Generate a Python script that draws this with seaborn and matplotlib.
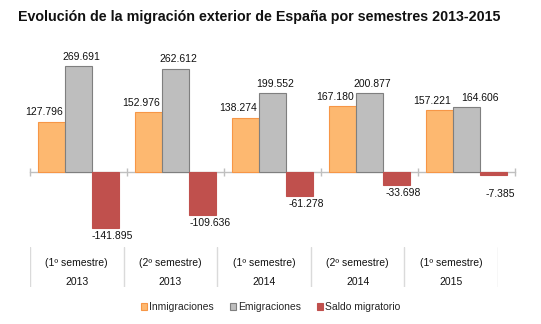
import matplotlib
matplotlib.use("Agg")
import matplotlib.pyplot as plt
import seaborn as sns
import pandas as pd
from matplotlib.patches import Patch

sns.set_theme(style="white")
plt.rcParams['font.family'] = ['Liberation Sans', 'DejaVu Sans']

title = "Evolución de la migración exterior de España por semestres 2013-2015"
periods = ["(1º semestre)", "(2º semestre)", "(1º semestre)", "(2º semestre)", "(1º semestre)"]
years = ["2013", "2013", "2014", "2014", "2015"]
series = ["Inmigraciones", "Emigraciones", "Saldo migratorio"]
inmigraciones = [127.796, 152.976, 138.274, 167.180, 157.221]
emigraciones = [269.691, 262.612, 199.552, 200.877, 164.606]
saldo = [-141.895, -109.636, -61.278, -33.698, -7.385]

fills = ["#FDB870", "#BEBEBE", "#C0504D"]
edges = ["#F79646", "#7F7F7F", "#C0504D"]
label_dx = [-5, 2, 5]  # label horizontal offsets (points)

cats = [f"{p}\n{y}#{i}" for i, (p, y) in enumerate(zip(periods, years))]
rows = []
for s, vals in zip(series, [inmigraciones, emigraciones, saldo]):
    for c, v in zip(cats, vals):
        rows.append({"cat": c, "serie": s, "valor": v})
df = pd.DataFrame(rows)

W, H = 541, 324
fig = plt.figure(figsize=(W / 100, H / 100), dpi=100)

ax = fig.add_axes([30 / W, (H - 240) / H, 485 / W, 200 / H])
sns.barplot(data=df, x="cat", y="valor", hue="serie", order=cats, hue_order=series,
            palette=fills, width=0.84, ax=ax, legend=False, saturation=1)
all_vals = [inmigraciones, emigraciones, saldo]
for i, cont in enumerate(ax.containers):
    for bar in cont:
        bar.set_edgecolor(edges[i])
        bar.set_linewidth(0.8)
    for j, (bar, v) in enumerate(zip(cont, all_vals[i])):
        x = bar.get_x() + bar.get_width() / 2
        txt = f"{v:.3f}"
        dx = label_dx[i]
        if i == 1 and abs(emigraciones[j] - inmigraciones[j]) < 15:
            dx += 8
        if v >= 0:
            ax.annotate(txt, (x, v), xytext=(dx, 3), textcoords="offset points",
                        ha="center", va="bottom", fontsize=7.5, color="#111111")
        else:
            extra = 8 if abs(v) < 15 else 0
            ax.annotate(txt, (x, v), xytext=(dx, -2 - extra), textcoords="offset points",
                        ha="center", va="top", fontsize=7.5, color="#111111")

ax.set_xlim(-0.5, 4.5)
ax.set_ylim(-172.6, 335)
ax.set_xlabel("")
ax.set_ylabel("")
ax.set_yticks([])
ax.set_xticks([i - 0.5 for i in range(6)])
ax.set_xticklabels([])
for sp in ["top", "right", "left"]:
    ax.spines[sp].set_visible(False)
ax.spines["bottom"].set_position(("data", 0))
ax.spines["bottom"].set_color("#BFBFBF")
ax.spines["bottom"].set_linewidth(1.0)
ax.spines["bottom"].set_zorder(0)
ax.tick_params(axis="x", direction="inout", length=6, color="#BFBFBF", width=1.0, bottom=True)
ax.patch.set_alpha(0)

# category table below
tax = fig.add_axes([30 / W, (H - 287) / H, 468 / W, 40 / H])
tax.set_xlim(0, 5)
tax.set_ylim(0, 1)
tax.axis("off")
for i in range(6):
    tax.axvline(i, color="#DADADA", lw=1.0)
for i, (p, y) in enumerate(zip(periods, years)):
    tax.text(i + 0.5, 0.6, p, ha="center", va="center", fontsize=7.5, color="#111111")
    tax.text(i + 0.5, 0.13, y, ha="center", va="center", fontsize=7.5, color="#111111")

handles = [Patch(facecolor=f, edgecolor=e, linewidth=0.8) for f, e in zip(fills, edges)]
fig.legend(handles, series, loc="center", bbox_to_anchor=(0.5, (H - 307) / H), ncol=3,
           frameon=False, fontsize=7.5, handlelength=0.6, handleheight=0.6,
           handletextpad=0.2, columnspacing=1.5)

fig.text(18 / W, 1 - 17 / H, title, ha="left", va="center", fontsize=10.3,
         fontweight="bold", color="#111111")

fig.savefig("out.png", dpi=100)
